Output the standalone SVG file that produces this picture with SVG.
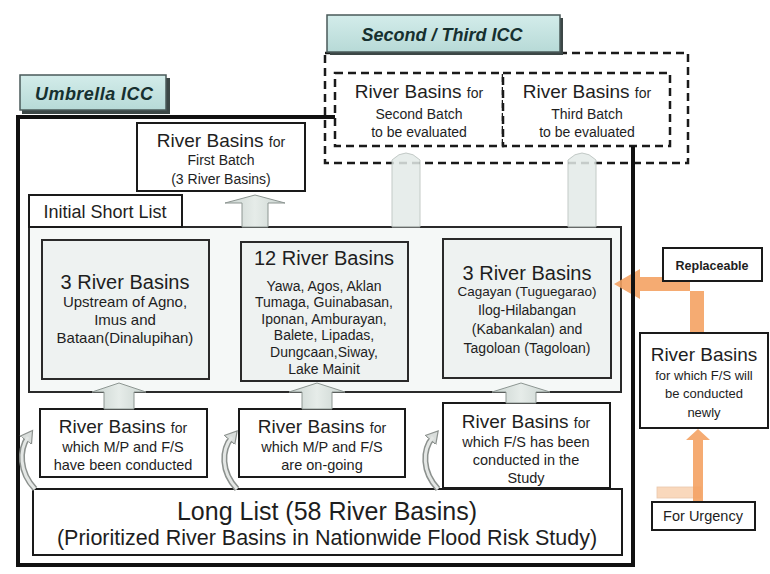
<svg xmlns="http://www.w3.org/2000/svg" width="770" height="574" viewBox="0 0 770 574">
  <defs>
    <style>
      text { font-family: "Liberation Sans", Arial, sans-serif; fill: #1e1e1e; text-anchor: middle; }
      .big { font-size: 19px; }
      .xs { font-size: 14px; }
      .title { font-size: 18px; font-weight: bold; font-style: italic; fill: #16302f; }
      .box { fill: #ffffff; stroke: #1a1a1a; stroke-width: 2; }
      .sbox { fill: #eef2f1; stroke: #2a2a2a; stroke-width: 2; }
      .dash { fill: none; stroke: #1a1a1a; stroke-width: 2.5; stroke-dasharray: 8 5; }
      .dashw { fill: #ffffff; stroke: #1a1a1a; stroke-width: 2.5; stroke-dasharray: 8 5; }
      .tab { fill: url(#tabFill); stroke: #4a5a59; stroke-width: 1.5; }
      .blk { fill: url(#arrowFill); stroke: #8d9692; stroke-width: 1; }
      .ghost { fill: #e3ebe8; stroke: #b9c1be; stroke-width: 1; opacity: 0.85; }
      .curveOut { fill: none; stroke: #8c918e; stroke-width: 6; }
      .curveIn { fill: none; stroke: #e4e7e5; stroke-width: 3; }
      .orange { fill: #f4a263; opacity: 0.9; }
    </style>
    <linearGradient id="tabFill" x1="0" y1="0" x2="0" y2="1">
      <stop offset="0" stop-color="#d3ecea"/>
      <stop offset="1" stop-color="#b7dad7"/>
    </linearGradient>
    <linearGradient id="arrowFill" x1="0" y1="0" x2="1" y2="0">
      <stop offset="0" stop-color="#c9d3cf"/>
      <stop offset="0.5" stop-color="#e6ece9"/>
      <stop offset="1" stop-color="#c9d3cf"/>
    </linearGradient>
    <marker id="curveHead" markerUnits="userSpaceOnUse" markerWidth="16" markerHeight="16" refX="4" refY="8" orient="auto">
      <path d="M0,1 L12,8 L0,15 Z" fill="#d9dddb" stroke="#8c918e" stroke-width="1.2"/>
    </marker>
  </defs>

  <rect width="770" height="574" fill="#ffffff"/>

  <!-- Umbrella ICC frame -->
  <g id="umbrella">
    <rect x="18" y="117" width="615" height="448" fill="#ffffff" stroke="#111111" stroke-width="4"/>
    <rect x="22" y="78" width="148" height="36" fill="#3c4746"/>
    <rect x="20" y="75" width="146" height="35" class="tab"/>
    <text x="94" y="100" class="title" textLength="118">Umbrella ICC</text>
  </g>

  <!-- Second / Third ICC frame -->
  <g id="second-third">
    <rect x="325" y="53" width="363" height="110" class="dash"/>
    <rect x="330" y="18" width="233" height="37" fill="#3c4746"/>
    <rect x="327" y="15" width="233" height="37" class="tab"/>
    <text x="442" y="41" class="title">Second / Third ICC</text>
  </g>

  <g id="second-batch">
    <rect x="335" y="73" width="168" height="73" class="dashw"/>
    <text x="419" y="98"><tspan class="big">River Basins </tspan><tspan class="xs">for</tspan></text>
    <text x="419" y="119" class="xs">Second Batch</text>
    <text x="419" y="137" class="xs">to be evaluated</text>
  </g>

  <g id="third-batch">
    <rect x="503" y="73" width="167" height="73" class="dashw"/>
    <text x="587" y="98"><tspan class="big">River Basins </tspan><tspan class="xs">for</tspan></text>
    <text x="587" y="119" class="xs">Third Batch</text>
    <text x="587" y="137" class="xs">to be evaluated</text>
  </g>

  <g id="first-batch">
    <rect x="137" y="123" width="168" height="68" class="box"/>
    <text x="221" y="147"><tspan class="big">River Basins </tspan><tspan class="xs">for</tspan></text>
    <text x="221" y="165" class="xs">First Batch</text>
    <text x="221" y="184" class="xs">(3 River Basins)</text>
  </g>

  <!-- Initial short list -->
  <g id="short-list">
    <rect x="29" y="227" width="592" height="165" fill="#f5f8f7" stroke="#2a2a2a" stroke-width="2"/>
    <rect x="29" y="195" width="153" height="32" class="box"/>
    <text x="105" y="218" style="font-size:18px">Initial Short List</text>
  </g>

  <g id="short-a">
    <rect x="42" y="240" width="167" height="139" class="sbox"/>
    <text x="125" y="289" style="font-size:20px">3 River Basins</text>
    <text x="125" y="307" style="font-size:15px">Upstream of Agno,</text>
    <text x="125" y="325" style="font-size:15px">Imus and</text>
    <text x="125" y="343" style="font-size:15px">Bataan(Dinalupihan)</text>
  </g>

  <g id="short-b">
    <rect x="241" y="242" width="167" height="139" class="sbox"/>
    <text x="324" y="265" style="font-size:20px">12 River Basins</text>
    <text x="324" y="291" style="font-size:14px">Yawa, Agos, Aklan</text>
    <text x="324" y="307" style="font-size:14px">Tumaga, Guinabasan,</text>
    <text x="324" y="324" style="font-size:14px">Iponan, Amburayan,</text>
    <text x="324" y="340" style="font-size:14px">Balete, Lipadas,</text>
    <text x="324" y="357" style="font-size:14px">Dungcaan,Siway,</text>
    <text x="324" y="374" style="font-size:14px">Lake Mainit</text>
  </g>

  <g id="short-c">
    <rect x="443" y="239" width="168" height="139" class="sbox"/>
    <text x="527" y="280" style="font-size:20px">3 River Basins</text>
    <text x="527" y="296" style="font-size:13.5px">Cagayan (Tuguegarao)</text>
    <text x="527" y="315" style="font-size:14px">Ilog-Hilabangan</text>
    <text x="527" y="334" style="font-size:14px">(Kabankalan) and</text>
    <text x="527" y="353" style="font-size:14px">Tagoloan (Tagoloan)</text>
  </g>

  <!-- Candidate groups -->
  <g id="mp-fs-done">
    <rect x="40" y="409" width="167" height="68" class="box"/>
    <text x="123" y="433"><tspan class="big">River Basins </tspan><tspan class="xs">for</tspan></text>
    <text x="123" y="452" style="font-size:14.5px">which M/P and F/S</text>
    <text x="123" y="470" style="font-size:14.5px">have been conducted</text>
  </g>

  <g id="mp-fs-ongoing">
    <rect x="239" y="409" width="166" height="68" class="box"/>
    <text x="322" y="433"><tspan class="big">River Basins </tspan><tspan class="xs">for</tspan></text>
    <text x="322" y="452" style="font-size:14.5px">which M/P and F/S</text>
    <text x="322" y="470" style="font-size:14.5px">are on-going</text>
  </g>

  <g id="fs-in-study">
    <rect x="443" y="403" width="167" height="85" class="box"/>
    <text x="526" y="428"><tspan class="big">River Basins </tspan><tspan class="xs">for</tspan></text>
    <text x="526" y="447" style="font-size:14.5px">which F/S has been</text>
    <text x="526" y="465" style="font-size:14.5px">conducted in the</text>
    <text x="526" y="483" style="font-size:14.5px">Study</text>
  </g>

  <g id="long-list">
    <rect x="33" y="489" width="589" height="66" class="box"/>
    <text x="327" y="520" style="font-size:25px">Long List (58 River Basins)</text>
    <text x="327" y="545" style="font-size:21.5px">(Prioritized River Basins in Nationwide Flood Risk Study)</text>
  </g>

  <!-- Connectors -->
  <g id="connectors">
    <!-- up arrows into the short list -->
    <path class="blk" d="M119,383 L146,392 L134,392 L134,409 L104,409 L104,392 L92,392 Z"/>
    <path class="blk" d="M317,383 L345,392 L332,392 L332,409 L302,409 L302,392 L289,392 Z"/>
    <path class="blk" d="M521,383 L550,392 L536,392 L536,403 L506,403 L506,392 L492,392 Z"/>
    <!-- short list to first batch -->
    <path class="blk" d="M255,195 L285,203 L268,203 L268,227 L242,227 L242,203 L225,203 Z"/>
    <!-- short list to second / third batches -->
    <path class="ghost" d="M392,227 L392,160 Q406,146 420,160 L420,227 Z"/>
    <path class="ghost" d="M568,227 L568,160 Q582,146 596,160 L596,227 Z"/>
    <!-- long list into candidate groups -->
    <path class="curveOut" d="M35,489 C19,472 19,450 28,437" marker-end="url(#curveHead)"/>
    <path class="curveIn" d="M35,489 C19,472 19,450 28,437"/>
    <path class="curveOut" d="M237,489 C221,472 221,450 232,437" marker-end="url(#curveHead)"/>
    <path class="curveIn" d="M237,489 C221,472 221,450 232,437"/>
    <path class="curveOut" d="M438,489 C422,472 422,450 433,437" marker-end="url(#curveHead)"/>
    <path class="curveIn" d="M438,489 C422,472 422,450 433,437"/>
    <!-- replaceable route -->
    <path class="orange" d="M704,333 L704,291 L640,291 L640,299 L614,284 L640,269 L640,277 L690,277 L690,333 Z"/>
    <!-- urgency route -->
    <rect x="657" y="487" width="44" height="11" fill="#f7c8a0" opacity="0.7" stroke="#e0b08a" stroke-width="0.8"/>
    <path class="orange" d="M693,502 L693,440 L686,440 L698,429 L710,440 L703,440 L703,502 Z"/>
  </g>

  <!-- re-stroke the frame edge the orange route crosses -->
  <line x1="633" y1="146" x2="633" y2="567" stroke="#111111" stroke-width="4"/>

  <g id="replaceable">
    <rect x="663" y="248" width="99" height="33" class="box"/>
    <text x="712" y="270" style="font-size:12.5px;font-weight:bold">Replaceable</text>
  </g>

  <g id="fs-new">
    <rect x="640" y="333" width="128" height="95" class="box"/>
    <text x="704" y="361" class="big">River Basins</text>
    <text x="704" y="380" style="font-size:13px">for which F/S will</text>
    <text x="704" y="398" style="font-size:13px">be conducted</text>
    <text x="704" y="417" style="font-size:13px">newly</text>
  </g>

  <g id="urgency">
    <rect x="652" y="502" width="103" height="28" class="box"/>
    <text x="703" y="521" style="font-size:14.5px">For Urgency</text>
  </g>
</svg>
